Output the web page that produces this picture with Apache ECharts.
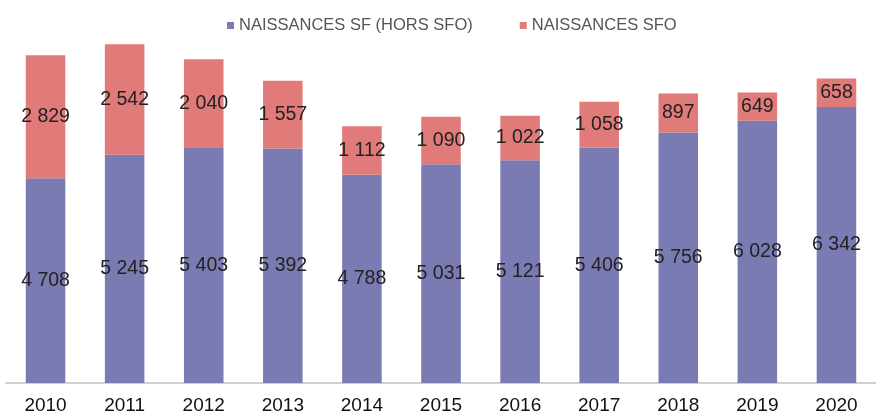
<!DOCTYPE html>
<html><head><meta charset="utf-8">
<script src="https://cdn.jsdelivr.net/npm/echarts@6/dist/echarts.min.js"></script>
<style>html,body{margin:0;padding:0;background:#fff}#c{width:876px;height:415px}</style>
</head><body><div id="c"></div>
<script>
const years = ['2010','2011','2012','2013','2014','2015','2016','2017','2018','2019','2020'];
const naissancesSF = [4708,5245,5403,5392,4788,5031,5121,5406,5756,6028,6342];
const naissancesSFO = [2829,2542,2040,1557,1112,1090,1022,1058,897,649,658];
const seriesNames = ['NAISSANCES SF (HORS SFO)','NAISSANCES SFO'];

const fmt = v => String(v.value).replace(/\B(?=(\d{3})+(?!\d))/g, ' ');
const chart = echarts.init(document.getElementById('c'));
const lbl = {show:true, position:'inside', color:'#222', fontSize:19.5, fontFamily:'Liberation Sans, Arial, sans-serif', formatter: fmt};
chart.setOption({
  animation:false,
  legend:{top:12, left:222, itemWidth:7, itemHeight:7, itemGap:47, icon:'rect',
    textStyle:{color:'#555', fontSize:16.5, fontFamily:'Liberation Sans, Arial, sans-serif'}},
  grid:{left:6, right:-6, top:35, bottom:32},
  xAxis:{type:'category', data:years,
    axisLine:{lineStyle:{color:'#d0d0d0', width:2}}, axisTick:{show:false},
    axisLabel:{color:'#111', fontSize:19, margin:13, fontFamily:'Liberation Sans, Arial, sans-serif'}},
  yAxis:{type:'value', min:0, max:8000, show:false, splitLine:{show:false}},
  series:[
    {name:seriesNames[0], type:'bar', stack:'t', data:naissancesSF, barWidth:'50%', itemStyle:{color:'#7b7bb3'}, label:lbl},
    {name:seriesNames[1], type:'bar', stack:'t', data:naissancesSFO, barWidth:'50%', itemStyle:{color:'#e07b79'}, label:lbl}
  ]
});
</script></body></html>
